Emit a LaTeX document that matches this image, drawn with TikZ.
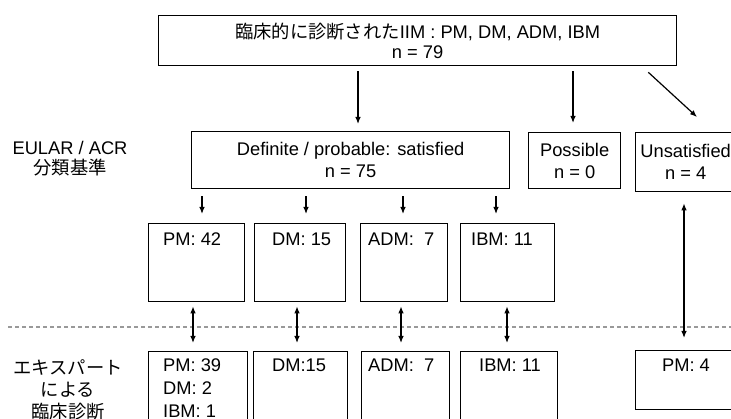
\documentclass[tikz,border=0pt]{standalone}
\usepackage{fontspec}
\setmainfont{Liberation Sans}
\newfontfamily\jpfont{Noto Sans CJK JP}
\usetikzlibrary{arrows.meta,calc}
\begin{document}
\begin{tikzpicture}[x=1pt,y=-1pt,
  every node/.style={font=\fontsize{18.3}{22}\selectfont,text=black},
  box/.style={draw=black,line width=1.3pt,inner sep=0pt,anchor=north west,align=center},
  lbl/.style={inner sep=0pt,anchor=base west},
  tip/.tip={Latex[length=7pt,width=5.5pt]},
  arr/.style={-tip,line width=1.2pt},
  dbl/.style={tip-tip,line width=1.2pt},
  sep/.style={draw=black!40,line width=1.2pt,dash pattern=on 4pt off 3pt}]
\useasboundingbox (0,0) rectangle (731,419);
\clip (0,0) rectangle (731,419);

% top level
\node[box,minimum width=518pt,minimum height=50pt] (top) at (158,15)
  {{\jpfont 臨床的に診断された}IIM : PM, DM, ADM, IBM\\[-2pt]n = 79};

% classification criteria level
\node[box,minimum width=318pt,minimum height=57pt] (def) at (191,131)
  {Definite / probable: satisfied\\n = 75};
\node[box,minimum width=92pt,minimum height=56pt] (poss) at (528,132)
  {Possible\\n = 0};
\node[box,minimum width=100pt,minimum height=59pt] (unsat) at (635,132)
  {Unsatisfied\\n = 4};

% subtype boxes by criteria
\node[box,minimum width=96pt,minimum height=78pt] (pmA) at (148,223) {};
\node[box,minimum width=91pt,minimum height=78pt] (dmA) at (254,223) {};
\node[box,minimum width=87pt,minimum height=78pt] (admA) at (360,223) {};
\node[box,minimum width=94pt,minimum height=78pt] (ibmA) at (460,223) {};
\node[lbl] (pmAt) at (163,245.5) {PM: 42};
\node[lbl] (dmAt) at (272,245.5) {DM: 15};
\node[lbl] (admAt) at (368,245.5) {ADM: \ 7};
\node[lbl] (ibmAt) at (471,245.5) {IBM: 11};

% expert diagnosis boxes
\node[box,minimum width=99pt,minimum height=100pt] (pmB) at (148,351) {};
\node[box,minimum width=94pt,minimum height=100pt] (dmB) at (253,351) {};
\node[box,minimum width=88pt,minimum height=100pt] (admB) at (361,351) {};
\node[box,minimum width=97pt,minimum height=100pt] (ibmB) at (460,351) {};
\node[box,minimum width=102pt,minimum height=59pt] (pmC) at (635,350) {};
\node[lbl] (pmBt1) at (163,371.5) {PM: 39};
\node[lbl] (pmBt2) at (163,394.5) {DM: 2};
\node[lbl] (pmBt3) at (163,417.5) {IBM: 1};
\node[lbl] (dmBt) at (272,371.5) {DM:15};
\node[lbl] (admBt) at (368,371.5) {ADM: \ 7};
\node[lbl] (ibmBt) at (479,371.5) {IBM: 11};
\node[inner sep=0pt,anchor=base] (pmCt) at (686,371.5) {PM: 4};

% row captions
\node[align=center] (crit) at (70,159) {EULAR / ACR\\[-2pt]{\jpfont 分類基準}};
\node[align=center] (expert) at (68,389.5)
  {{\jpfont エキスパート}\\{\jpfont による}\\{\jpfont 臨床診断}};

% separator between criteria and expert diagnosis
\draw[sep] (8,327) -- (731,327);

% arrow columns
\coordinate (xa) at (358,0);
\coordinate (xb) at (573,0);
\coordinate (x1) at (202,0);
\coordinate (x2) at (306,0);
\coordinate (x3) at (403,0);
\coordinate (x4) at (496,0);
\coordinate (d1) at (193,0);
\coordinate (d2) at (297,0);
\coordinate (d3) at (401,0);
\coordinate (d4) at (507,0);
\coordinate (d5) at (684,0);

\draw[arr] ($(top.south -| xa)+(0,5)$) -- ($(def.north -| xa)+(0,-7)$);
\draw[arr] ($(top.south -| xb)+(0,5)$) -- ($(poss.north -| xb)+(0,-9)$);
\draw[arr] ($(top.south east)+(-29,6)$) -- ($(unsat.north west)+(62,-15)$);

\draw[arr] ($(def.south -| x1)+(0,7)$) -- ($(pmA.north -| x1)+(0,-9)$);
\draw[arr] ($(def.south -| x2)+(0,7)$) -- ($(dmA.north -| x2)+(0,-9)$);
\draw[arr] ($(def.south -| x3)+(0,7)$) -- ($(admA.north -| x3)+(0,-9)$);
\draw[arr] ($(def.south -| x4)+(0,7)$) -- ($(ibmA.north -| x4)+(0,-9)$);

\draw[dbl] ($(pmA.south -| d1)+(0,4)$) -- ($(pmB.north -| d1)+(0,-8)$);
\draw[dbl] ($(dmA.south -| d2)+(0,4)$) -- ($(dmB.north -| d2)+(0,-8)$);
\draw[dbl] ($(admA.south -| d3)+(0,4)$) -- ($(admB.north -| d3)+(0,-8)$);
\draw[dbl] ($(ibmA.south -| d4)+(0,4)$) -- ($(ibmB.north -| d4)+(0,-8)$);
\draw[dbl] ($(unsat.south -| d5)+(0,11)$) -- ($(pmC.north -| d5)+(0,-12)$);
\end{tikzpicture}
\end{document}
